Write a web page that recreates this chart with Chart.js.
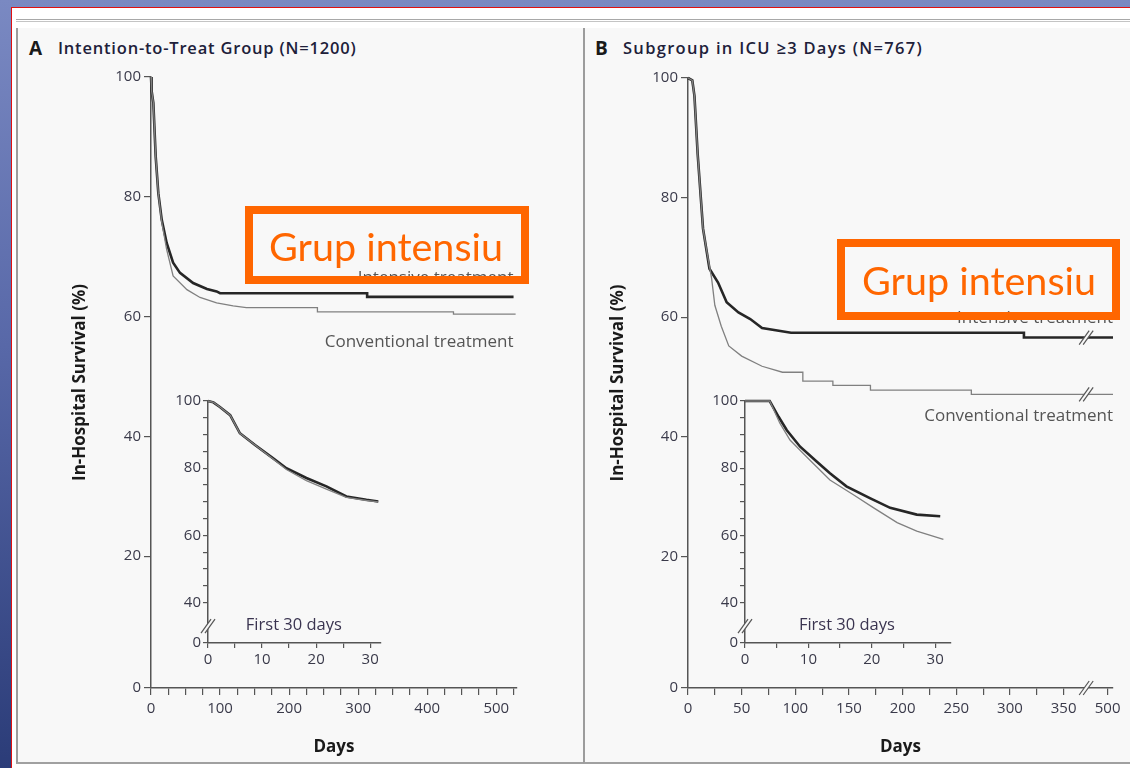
<!DOCTYPE html>
<html>
<head>
<meta charset="utf-8">
<script src="https://cdn.jsdelivr.net/npm/chart.js@4"></script>
<style>
  html, body { margin: 0; padding: 0; }
  body {
    width: 1130px; height: 768px; overflow: hidden; position: relative;
    background: linear-gradient(180deg, #7a89c2 0%, #5868a8 45%, #2b3c78 100%);
    font-family: "Open Sans", sans-serif;
  }
  #sheet {
    position: absolute; left: 11px; top: 7px; width: 1140px; height: 780px;
    background: #fff; border-left: 1px solid #e01010; border-top: 1px solid #e01010;
  }
  #rule {
    position: absolute; left: 16px; top: 19px; width: 1120px; height: 1px;
    border-top: 1px solid #a8a8a8; border-bottom: 1px solid #c4c4c4;
  }
  .panel {
    position: absolute; top: 28px; height: 736px; background: #f8f8f8;
    border-left: 2px solid #9c9c9c; border-bottom: 2px solid #a0a0a0; box-sizing: border-box;
  }
  #pA { left: 16px; width: 567px; }
  #pB { left: 583px; width: 560px; }
  .letter { position: absolute; top: 35px; font-weight: 700; font-size: 19px; color: #1a1a1a; }
  .head { position: absolute; top: 36px; font-weight: 600; font-size: 16.5px; letter-spacing: 0.8px; color: #20203a; }
  canvas { position: absolute; }
  .box {
    position: absolute; box-sizing: border-box; border: 8px solid #ff6600;
    color: #ff6600; font-family: Lato, sans-serif; font-size: 39.5px;
    display: flex; align-items: center; white-space: nowrap;
  }
</style>
</head>
<body>
<div id="sheet"></div>
<div id="rule"></div>
<div class="panel" id="pA"></div>
<div class="panel" id="pB"></div>
<div class="letter" style="left:29px">A</div>
<div class="head" style="left:58px">Intention-to-Treat Group (N=1200)</div>
<div class="letter" style="left:595px">B</div>
<div class="head" style="left:623px;letter-spacing:1.3px">Subgroup in ICU ≥3 Days (N=767)</div>

<canvas id="mainA" width="567" height="737" style="left:16px;top:28px"></canvas>
<canvas id="insetA" width="250" height="295" style="left:150px;top:385px"></canvas>
<canvas id="mainB" width="547" height="737" style="left:583px;top:28px"></canvas>
<canvas id="insetB" width="280" height="295" style="left:687px;top:385px"></canvas>

<div class="box" style="left:245px;top:206px;width:284px;height:78px;padding-left:16px">Grup intensiu</div>
<div class="box" style="left:837px;top:239px;width:283px;height:81px;padding-left:17px">Grup intensiu</div>

<script>
// ---- data (days, in-hospital survival %) ----

// A: intention-to-treat group, whole stay
const aIntDays  = [0, 1, 3.4, 6.8, 10.6, 15.5, 22.7, 32, 42, 61, 81, 95, 100, 313, 313, 525];
const aIntSurv  = [100, 97.6, 95.7, 86.7, 80.6, 76.2, 72.3, 69, 67.3, 65.6, 64.6, 64.2, 63.9, 63.9, 63.3, 63.3];
const aConvDays = [0, 1, 3.4, 6.8, 10.6, 15.5, 22.7, 32, 52, 71, 95, 119, 138, 241, 241, 438, 438, 528];
const aConvSurv = [100, 97.6, 95.7, 86.7, 80.6, 75.8, 71.2, 66.8, 64.5, 63.2, 62.3, 61.8, 61.5, 61.5, 60.8, 60.8, 60.4, 60.4];

// A: first 30 days
const aInIntDays  = [0, 1, 2.2, 4.1, 5.9, 8.7, 12, 14.5, 18.2, 21.9, 25.6, 29.3, 31.5];
const aInIntSurv  = [100, 99.6, 98.2, 95.8, 90.4, 86.9, 83, 80, 77.1, 74.6, 71.6, 70.6, 70.1];
const aInConvDays = [0, 1, 2.2, 4.1, 5.9, 8.7, 12, 14.5, 18.2, 21.9, 25.6, 29.3, 31.5];
const aInConvSurv = [100, 99.6, 98.2, 95.8, 90.4, 86.9, 82.8, 79.6, 76.3, 73.8, 71.3, 70.4, 70.0];

// B: subgroup in ICU >= 3 days, whole stay
const bIntDays  = [0, 4, 6, 9, 14, 20, 28, 36, 47, 58, 69, 96, 313, 313, 370, 505];
const bIntSurv  = [100, 99.6, 97, 87.3, 74.8, 68.1, 65.8, 62.5, 60.8, 59.7, 58.2, 57.4, 57.4, 56.6, 56.6, 56.6];
const bConvDays = [0, 4, 6, 9, 14, 18, 22, 25, 31, 38, 50, 69, 88, 107, 107, 135, 135, 170, 170, 264, 264, 370, 505];
const bConvSurv = [100, 99.6, 97, 87.3, 74.8, 70.5, 66.5, 62, 58.5, 55.2, 53.5, 51.8, 50.8, 50.8, 49.3, 49.3, 48.6, 48.6, 47.8, 47.8, 47.1, 47.1, 47.1];

// B: first 30 days
const bInIntDays  = [0, 3.9, 5.3, 6.6, 8.7, 11.3, 13.4, 16, 19.7, 22.9, 27.1, 30.8];
const bInIntSurv  = [100, 100, 95.3, 91.3, 86.4, 82, 78.5, 74.6, 71.1, 68.2, 66.2, 65.7];
const bInConvDays = [0, 3.9, 5.5, 7.1, 9.7, 13.4, 17.1, 20.3, 24, 27.1, 31.3];
const bInConvSurv = [100, 100, 93.4, 88.4, 83.4, 76.5, 72.1, 68.2, 63.8, 61.3, 58.8];

// ---- tick labels ----
const yFloor = -2;                       // main axes: the x axis sits a little below 0
const yMainTicks  = [yFloor, 20, 40, 60, 80, 100];
const yMainLabels = ['0', '20', '40', '60', '80', '100'];
const yInFloor = 28;                     // insets: broken y axis, bottom tick reads 0
const yInTicks  = [yInFloor, 40, 45, 50, 55, 60, 65, 70, 75, 80, 85, 90, 95, 100];
const yInLabels = ['0', '40', '', '', '', '60', '', '', '', '80', '', '', '', '100'];
const xInTicks  = [0, 5, 10, 15, 20, 25, 30];
const xInLabels = ['0', '', '10', '', '20', '', '30'];
const aXTicks = [0, 25, 50, 75, 100, 125, 150, 175, 200, 225, 250, 275, 300, 325, 350, 375, 400, 425, 450, 475, 500, 525];
const aXLabels = [0, 100, 200, 300, 400, 500];
// B day axis is broken between 370 and 480 days
const brk = d => d <= 370 ? d : d - 109;
const bXTicks  = [0, 25, 50, 75, 100, 125, 150, 175, 200, 225, 250, 275, 300, 325, 350, 500];
const bXLabels = ['0', '', '50', '', '100', '', '150', '', '200', '', '250', '', '300', '', '350', '500'];

const INK = '#3a3a4a';
Chart.defaults.font.family = '"Open Sans", sans-serif';
Chart.defaults.font.size = 15;
Chart.defaults.color = INK;

const pts = (xs, ys, f) => xs.map((d, i) => ({ x: f ? f(d) : d, y: ys[i] }));

// break marks "//" and in-plot text labels
const marks = {
  id: 'marks',
  afterDatasetsDraw(chart, args, opts) {
    const ctx = chart.ctx, xs = chart.scales.x, ys = chart.scales.y;
    ctx.save();
    (opts.breaks || []).forEach(b => {
      const px = xs.getPixelForValue(b.x), py = ys.getPixelForValue(b.y);
      const h = 7, w = 5, gap = 4;
      ctx.fillStyle = '#f8f8f8';
      ctx.beginPath();
      ctx.moveTo(px - w - gap / 2, py + h); ctx.lineTo(px + w - gap / 2, py - h);
      ctx.lineTo(px + w + gap / 2, py - h); ctx.lineTo(px - w + gap / 2, py + h);
      ctx.closePath(); ctx.fill();
      ctx.strokeStyle = '#555'; ctx.lineWidth = 1.2;
      [-gap / 2, gap / 2].forEach(o => {
        ctx.beginPath(); ctx.moveTo(px - w + o, py + h); ctx.lineTo(px + w + o, py - h); ctx.stroke();
      });
    });
    (opts.labels || []).forEach(l => {
      ctx.font = (l.size || 17) + 'px "Open Sans", sans-serif';
      ctx.fillStyle = l.color || '#555';
      ctx.textAlign = l.align || 'right';
      ctx.textBaseline = 'middle';
      ctx.fillText(l.text, xs.getPixelForValue(l.x), ys.getPixelForValue(l.y));
    });
    ctx.restore();
  }
};

function axis(o) {
  return {
    type: 'linear', min: o.min, max: o.max,
    afterFit: s => { if (s.isHorizontal()) s.height = o.size; else s.width = o.size; },
    afterBuildTicks: s => { s.ticks = o.ticks.map(v => ({ value: v })); },
    ticks: {
      autoSkip: false, maxRotation: 0, padding: o.pad,
      font: { size: o.font || 15 }, color: INK,
      callback: (v, i) => o.labels[i]
    },
    grid: { drawOnChartArea: false, tickLength: o.tick || 7, color: '#555', lineWidth: 1.2 },
    border: { color: '#555', width: 1.5 },
    title: o.title ? { display: true, text: o.title, color: '#1a1a1a', font: { size: 17, weight: 'bold' }, padding: o.titlePad } : { display: false }
  };
}

function curves(intPts, convPts) {
  return [
    { data: convPts, borderColor: '#808080', borderWidth: 1.3, pointRadius: 0, clip: false, tension: 0 },
    { data: intPts, borderColor: '#262626', borderWidth: 2.6, pointRadius: 0, clip: false, tension: 0 }
  ];
}

function draw(id, datasets, padding, x, y, markOpts) {
  new Chart(document.getElementById(id), {
    type: 'line',
    data: { datasets },
    options: {
      responsive: false, animation: false, parsing: false,
      layout: { padding },
      plugins: { legend: { display: false }, tooltip: { enabled: false }, marks: markOpts },
      scales: { x, y }
    },
    plugins: [marks]
  });
}

// panel A
draw('mainA', curves(pts(aIntDays, aIntSurv), pts(aConvDays, aConvSurv)),
  { left: 50, top: 49, right: 66, bottom: 0 },
  axis({ min: 0, max: 530, size: 77, ticks: aXTicks, labels: aXTicks.map(v => aXLabels.includes(v) ? String(v) : ''), pad: 5, title: 'Days', titlePad: { top: 0, bottom: 8 } }),
  axis({ min: yFloor, max: 100, size: 85, ticks: yMainTicks, labels: yMainLabels, pad: 3, title: 'In-Hospital Survival (%)', titlePad: 4 }),
  { labels: [
      { text: 'Intensive treatment', x: 525, y: 66.4 },
      { text: 'Conventional treatment', x: 525, y: 55.8 }
  ] });

draw('insetA', curves(pts(aInIntDays, aInIntSurv), pts(aInConvDays, aInConvSurv)),
  { left: 0, top: 16, right: 19, bottom: 0 },
  axis({ min: 0, max: 32, size: 37, ticks: xInTicks, labels: xInLabels, pad: 3, tick: 5 }),
  axis({ min: yInFloor, max: 100, size: 58, ticks: yInTicks, labels: yInLabels, pad: 2, tick: 5 }),
  { breaks: [{ x: 0, y: 33 }],
    labels: [{ text: 'First 30 days', x: 7, y: 33.3, align: 'left', color: '#3a3450', size: 16.5 }] });

// panel B
draw('mainB', curves(pts(bIntDays, bIntSurv, brk), pts(bConvDays, bConvSurv, brk)),
  { left: 21, top: 50, right: 17, bottom: 0 },
  axis({ min: 0, max: brk(505), size: 77, ticks: bXTicks.map(brk), labels: bXLabels, pad: 5, title: 'Days', titlePad: { top: 0, bottom: 8 } }),
  axis({ min: yFloor, max: 100, size: 84, ticks: yMainTicks, labels: yMainLabels, pad: 3, title: 'In-Hospital Survival (%)', titlePad: 4 }),
  { breaks: [{ x: 371, y: yFloor }, { x: 371, y: 56.6 }, { x: 371, y: 47.1 }],
    labels: [
      { text: 'Intensive treatment', x: brk(505), y: 59.9 },
      { text: 'Conventional treatment', x: brk(505), y: 43.5 }
  ] });

draw('insetB', curves(pts(bInIntDays, bInIntSurv), pts(bInConvDays, bInConvSurv)),
  { left: 0, top: 16, right: 16, bottom: 0 },
  axis({ min: 0, max: 32.5, size: 37, ticks: xInTicks, labels: xInLabels, pad: 3, tick: 5 }),
  axis({ min: yInFloor, max: 100, size: 58, ticks: yInTicks, labels: yInLabels, pad: 2, tick: 5 }),
  { breaks: [{ x: 0, y: 33 }],
    labels: [{ text: 'First 30 days', x: 8.5, y: 33.3, align: 'left', color: '#3a3450', size: 16.5 }] });
</script>
</body>
</html>
